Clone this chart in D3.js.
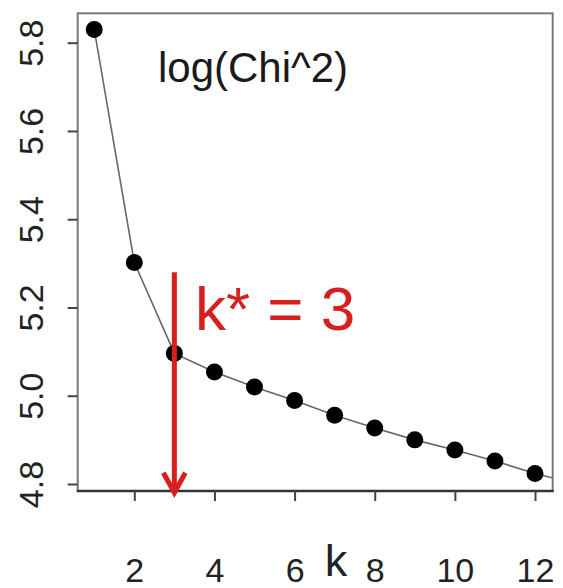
<!DOCTYPE html>
<html>
<head>
<meta charset="utf-8">
<script src="https://cdn.jsdelivr.net/npm/d3@7"></script>
<style>
html,body{margin:0;padding:0;background:#fff;}
svg{display:block;font-family:"Liberation Sans",Arial,Helvetica,sans-serif;}
</style>
</head>
<body>
<svg id="chart" width="563" height="588"></svg>
<script>
// ---- data ----
const kValues = [1,2,3,4,5,6,7,8,9,10,11,12,13];
const logChi2 = [5.830,5.302,5.096,5.054,5.020,4.989,4.956,4.927,4.900,4.877,4.852,4.824,4.801];
const xTicks = [2,4,6,8,10,12];
const yTicks = [4.8,5.0,5.2,5.4,5.6,5.8];
const yTickLabels = ["4.8","5.0","5.2","5.4","5.6","5.8"];
const kStar = 3;
const arrowFrom = 5.28, arrowTo = 4.78;
const titleText = "log(Chi^2)";
const kStarText = "k* = 3";
const xLabel = "k";

// ---- layout ----
const svg = d3.select("#chart");
const box = {left:77.7, right:552.7, top:13.3, bottom:491};
const x = d3.scaleLinear().domain([2,12]).range([134.3,535]);
const y = d3.scaleLinear().domain([4.8,5.8]).range([484,42.7]);

svg.append("rect").attr("width",563).attr("height",588).attr("fill","#fff");

svg.append("defs").append("clipPath").attr("id","clip")
  .append("rect").attr("x",box.left).attr("y",box.top)
  .attr("width",box.right-box.left).attr("height",box.bottom-box.top);

// box
svg.append("rect").attr("x",box.left).attr("y",box.top)
  .attr("width",box.right-box.left).attr("height",box.bottom-box.top)
  .attr("fill","none").attr("stroke","#7a7a7a").attr("stroke-width",2);
svg.append("line").attr("x1",box.left-1).attr("x2",box.right+1)
  .attr("y1",box.bottom).attr("y2",box.bottom)
  .attr("stroke","#333").attr("stroke-width",2.5);

// y axis
const yAxis = svg.append("g").attr("transform",`translate(${box.left},0)`)
  .call(d3.axisLeft(y).tickValues(yTicks).tickSize(10).tickFormat((d,i)=>yTickLabels[i]));
yAxis.select(".domain").remove();
yAxis.selectAll(".tick line").attr("stroke","#444").attr("stroke-width",2);
yAxis.selectAll(".tick text")
  .attr("x",null).attr("dy",null)
  .attr("transform","translate(-35,0) rotate(-90)")
  .attr("text-anchor","middle")
  .attr("fill","#222")
  .style("font-size","34px")
  .style("font-family","'Liberation Sans',Arial,sans-serif");

// x axis
const xAxis = svg.append("g").attr("transform",`translate(0,${box.bottom})`)
  .call(d3.axisBottom(x).tickValues(xTicks).tickSize(10).tickPadding(57));
xAxis.select(".domain").remove();
xAxis.selectAll(".tick line").attr("stroke","#444").attr("stroke-width",2);
xAxis.selectAll(".tick text")
  .attr("fill","#222")
  .style("font-size","34px")
  .style("font-family","'Liberation Sans',Arial,sans-serif");

// x label
svg.append("text").attr("x",336).attr("y",576).attr("text-anchor","middle")
  .attr("fill","#222").style("font-size","45px").text(xLabel);

// line + points
const pts = kValues.map((k,i)=>({k, v:logChi2[i]}));
const plot = svg.append("g").attr("clip-path","url(#clip)");
plot.append("path").datum(pts)
  .attr("fill","none").attr("stroke","#666").attr("stroke-width",1.6)
  .attr("d", d3.line().x(d=>x(d.k)).y(d=>y(d.v)));
plot.selectAll("circle").data(pts.filter(d=>d.k<=12)).join("circle")
  .attr("cx",d=>x(d.k)).attr("cy",d=>y(d.v)).attr("r",8.5).attr("fill","#000");

// title
svg.append("text").attr("x",158).attr("y",82)
  .attr("fill","#1a1a1a").style("font-size","42px").text(titleText);

// red arrow
const red = "#d61f1f";
const ax = x(kStar), ay1 = y(arrowFrom), ay2 = y(arrowTo);
svg.append("line").attr("x1",ax).attr("x2",ax).attr("y1",ay1).attr("y2",ay2-2)
  .attr("stroke",red).attr("stroke-width",5);
svg.append("path")
  .attr("d",`M${ax-11},${ay2-20} L${ax},${ay2} L${ax+11},${ay2-20}`)
  .attr("fill","none").attr("stroke",red).attr("stroke-width",5)
  .attr("stroke-linejoin","miter");

svg.append("text").attr("x",195).attr("y",330)
  .attr("fill",red).style("font-size","62px").text(kStarText);
</script>
</body>
</html>
